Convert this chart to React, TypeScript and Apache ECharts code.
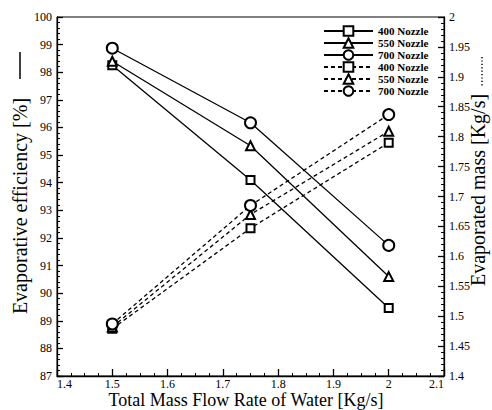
import React, { useEffect, useRef } from "react";
import * as echarts from "echarts";

const flowRates = [1.5, 1.75, 2.0];
const nozzles = ["400 Nozzle", "550 Nozzle", "700 Nozzle"];
const efficiency400 = [98.25, 94.1, 89.46];
const efficiency550 = [98.4, 95.34, 90.6];
const efficiency700 = [98.87, 96.17, 91.73];
const evaporated400 = [1.479, 1.647, 1.79];
const evaporated550 = [1.482, 1.67, 1.809];
const evaporated700 = [1.487, 1.685, 1.837];
const symbols = ["emptyRect", "emptyTriangle", "emptyCircle"];
const symbolSizes = [8, 9, 11];

const FONT = "Liberation Serif";

export default function App() {
  const ref = useRef<HTMLDivElement>(null);
  useEffect(() => {
    if (!ref.current) return;
    const chart = echarts.init(ref.current, undefined, { renderer: "svg" });
    const effSets = [efficiency400, efficiency550, efficiency700];
    const evapSets = [evaporated400, evaporated550, evaporated700];
    const series: any[] = [];
    nozzles.forEach((n, i) => {
      series.push({
        name: n + "|eff",
        type: "line",
        yAxisIndex: 0,
        data: flowRates.map((x, k) => [x, effSets[i][k]]),
        symbol: symbols[i],
        symbolSize: symbolSizes[i],
        lineStyle: { color: "#000", width: 1.3, type: "solid" },
        itemStyle: { color: "#000", borderColor: "#000", borderWidth: 1.3 },
        z: 3,
      });
    });
    nozzles.forEach((n, i) => {
      series.push({
        name: n + "|evap",
        type: "line",
        yAxisIndex: 1,
        data: flowRates.map((x, k) => [x, evapSets[i][k]]),
        symbol: symbols[i],
        symbolSize: symbolSizes[i],
        lineStyle: { color: "#000", width: 1.3, type: [4, 3] },
        itemStyle: { color: "#000", borderColor: "#000", borderWidth: 1.3 },
        z: 3,
      });
    });
    const axisLabel = { color: "#000", fontFamily: FONT, fontSize: 12, lineHeight: 12 };
    chart.setOption({
      animation: false,
      backgroundColor: "#fff",
      grid: {
        left: 57,
        right: 48,
        top: 17,
        bottom: 34,
        show: true,
        borderColor: "#000",
        borderWidth: 1,
      },
      legend: {
        orient: "vertical",
        left: 323,
        top: 25,
        itemWidth: 49,
        itemHeight: 12,
        itemGap: 0,
        padding: 0,
        formatter: (name: string) => name.split("|")[0],
        textStyle: {
          fontFamily: FONT,
          fontWeight: "bold",
          fontSize: 11,
          color: "#000",
          lineHeight: 12,
        },
        data: series.map((s) => s.name),
      },
      xAxis: {
        type: "value",
        min: 1.4,
        max: 2.1,
        interval: 0.1,
        axisLine: { lineStyle: { color: "#000", width: 1.3 } },
        axisTick: { inside: true, length: 7, lineStyle: { color: "#000", width: 1.3 } },
        minorTick: { show: true, splitNumber: 4, length: 3, lineStyle: { color: "#000" } },
        splitLine: { show: false },
        axisLabel: {
          ...axisLabel,
          margin: 2,
          alignMinLabel: "left",
          alignMaxLabel: "right",
          formatter: (v: number) => String(+v.toFixed(2)),
        },
      },
      yAxis: [
        {
          type: "value",
          min: 87,
          max: 100,
          interval: 1,
          axisLine: { show: true, lineStyle: { color: "#000", width: 1.3 } },
          axisTick: { inside: true, length: 6, lineStyle: { color: "#000", width: 1.3 } },
          minorTick: { show: true, splitNumber: 5, length: 3, lineStyle: { color: "#000" } },
          splitLine: { show: false },
          axisLabel: { ...axisLabel, margin: 5 },
        },
        {
          type: "value",
          position: "right",
          min: 1.4,
          max: 2,
          interval: 0.05,
          axisLine: { show: true, lineStyle: { color: "#000", width: 1.3 } },
          axisTick: { inside: true, length: 6, lineStyle: { color: "#000", width: 1.3 } },
          minorTick: { show: true, splitNumber: 5, length: 3, lineStyle: { color: "#000" } },
          splitLine: { show: false },
          axisLabel: {
            ...axisLabel,
            margin: 5,
            formatter: (v: number) => String(+v.toFixed(2)),
          },
        },
      ],
      graphic: [
        {
          type: "text",
          x: 246,
          y: 400,
          style: {
            text: "Total Mass Flow Rate of Water [Kg/s]",
            fontFamily: FONT,
            fontSize: 18,
            lineHeight: 18,
            fill: "#000",
            textAlign: "center",
            textVerticalAlign: "middle",
          },
        },
        {
          type: "text",
          x: 20,
          y: 206,
          rotation: Math.PI / 2,
          style: {
            text: "Evaporative efficiency [%]",
            fontFamily: FONT,
            fontSize: 20,
            fill: "#000",
            textAlign: "center",
            textVerticalAlign: "middle",
          },
        },
        {
          type: "line",
          shape: { x1: 20, y1: 52, x2: 20, y2: 79 },
          style: { stroke: "#000", lineWidth: 1.5 },
        },
        {
          type: "text",
          x: 478,
          y: 190,
          rotation: Math.PI / 2,
          style: {
            text: "Evaporated mass [Kg/s]",
            fontFamily: FONT,
            fontSize: 20,
            fill: "#000",
            textAlign: "center",
            textVerticalAlign: "middle",
          },
        },
        {
          type: "line",
          shape: { x1: 482, y1: 57, x2: 482, y2: 87 },
          style: { stroke: "#000", lineWidth: 1.5, lineDash: [1.2, 2.2] },
        },
      ],
      series,
    });
    return () => chart.dispose();
  }, []);
  return (
    <div
      ref={ref}
      style={{ position: "fixed", left: 0, top: 0, width: 492, height: 410 }}
    />
  );
}
